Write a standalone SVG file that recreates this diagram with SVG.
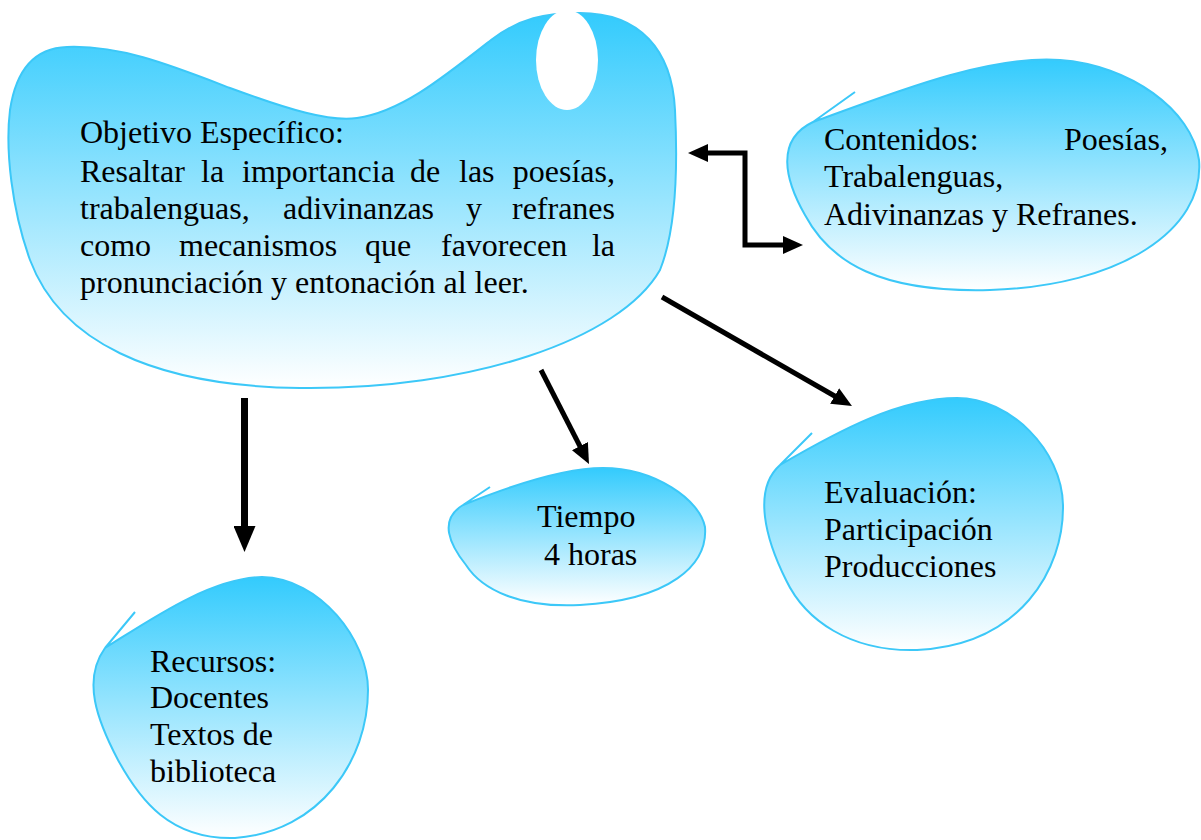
<svg xmlns="http://www.w3.org/2000/svg" width="1201" height="840" viewBox="0 0 1201 840">
<defs>
<linearGradient id="g" x1="0" y1="0" x2="0" y2="1">
<stop offset="0" stop-color="#33CBFD"/>
<stop offset="1" stop-color="#FFFFFF"/>
</linearGradient>
<marker id="ah" markerUnits="userSpaceOnUse" markerWidth="20" markerHeight="18" refX="4" refY="9" orient="auto-start-reverse"><path d="M0,0 L20,9 L0,18 Z" fill="#000"/></marker>
<marker id="ahb" markerUnits="userSpaceOnUse" markerWidth="26" markerHeight="22" refX="4" refY="11" orient="auto"><path d="M0,0 L26,11 L0,22 Z" fill="#000"/></marker>
<style>
.blob{fill:url(#g);stroke:#3CC8F8;stroke-width:2}
.c{fill:none;stroke:#000;stroke-width:5}
.t{font-family:'Liberation Serif','Times New Roman',serif;font-size:32px;fill:#000}
</style>
</defs>
<rect width="1201" height="840" fill="#fff"/>
<g id="objetivo">
<path class="blob" d="M 67,47 C 120,45 170,65 230,88 C 290,110 330,122 357,118 C 400,112 440,80 491,40 C 520,18 545,13 580,13 C 640,13 672,50 675,110 C 678,170 676,230 660,270 C 620,340 470,390 300,388 C 150,386 60,340 30,260 C 12,210 5,150 10,110 C 16,70 35,48 67,47 Z"/>
<ellipse cx="567" cy="60" rx="31" ry="50" fill="#fff"/>
<text class="t" x="80" y="143">Objetivo Específico:</text>
<text class="t" y="182"><tspan x="80">Resaltar</tspan><tspan x="201">la</tspan><tspan x="242">importancia</tspan><tspan x="410">de</tspan><tspan x="459">las</tspan><tspan x="615" text-anchor="end">poesías,</tspan></text>
<text class="t" y="219"><tspan x="80">trabalenguas,</tspan><tspan x="283">adivinanzas</tspan><tspan x="466">y</tspan><tspan x="615" text-anchor="end">refranes</tspan></text>
<text class="t" y="256"><tspan x="80">como</tspan><tspan x="179">mecanismos</tspan><tspan x="365">que</tspan><tspan x="441">favorecen</tspan><tspan x="615" text-anchor="end">la</tspan></text>
<text class="t" x="80" y="293">pronunciación y entonación al leer.</text>
</g>
<g id="contenidos">
<path class="blob" d="M 855,92 L 813,122 C 900,90 990,55 1060,60 C 1130,65 1192,110 1199,160 C 1205,230 1120,286 990,290 C 880,293 830,262 805,215 C 785,180 775,140 813,122"/>
<text class="t" x="824" y="150">Contenidos:</text>
<text class="t" x="1168" y="150" text-anchor="end">Poesías,</text>
<text class="t" x="824" y="187">Trabalenguas,</text>
<text class="t" x="824" y="225">Adivinanzas y Refranes.</text>
</g>
<g id="recursos">
<path class="blob" d="M 135,612 L 105,648 C 150,620 210,578 262,577 C 320,578 368,640 368,690 C 368,760 320,832 235,838 C 170,840 140,800 118,760 C 97,720 82,680 105,648"/>
<text class="t" x="150" y="672">Recursos:</text>
<text class="t" x="150" y="708">Docentes</text>
<text class="t" x="150" y="745">Textos de</text>
<text class="t" x="150" y="782">biblioteca</text>
</g>
<g id="tiempo">
<path class="blob" d="M 490,487 L 463,505 C 500,490 560,468 603,468 C 655,468 700,500 705,527 C 708,565 670,600 580,605 C 520,608 482,590 466,565 C 450,545 438,520 463,505"/>
<text class="t" x="537" y="527">Tiempo</text>
<text class="t" x="544" y="565">4 horas</text>
</g>
<g id="evaluacion">
<path class="blob" d="M 812,433 L 780,465 C 840,430 900,398 957,398 C 1010,398 1062,450 1063,505 C 1064,570 1020,645 917,650 C 850,652 805,620 786,580 C 766,540 752,490 780,465"/>
<text class="t" x="824" y="503">Evaluación:</text>
<text class="t" x="824" y="540">Participación</text>
<text class="t" x="824" y="577">Producciones</text>
</g>
<g id="connectors">
<path class="c" d="M 704,153 H 745 V 245 H 787" marker-start="url(#ah)" marker-end="url(#ah)"/>
<path class="c" d="M 244.5,398 V 530" style="stroke-width:7" marker-end="url(#ahb)"/>
<path class="c" d="M 541,370 L 581.7,449.7" marker-end="url(#ah)"/>
<path class="c" d="M 662,297 L 838.1,398" marker-end="url(#ah)"/>
</g>
</svg>
